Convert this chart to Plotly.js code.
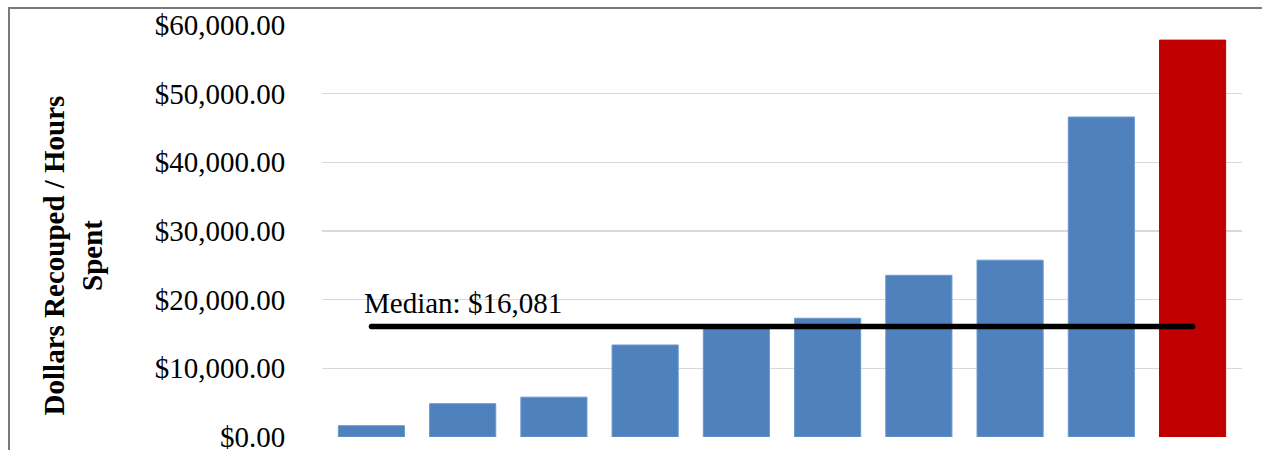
<!DOCTYPE html>
<html>
<head>
<meta charset="utf-8">
<script src="https://cdn.plot.ly/plotly-3.0.1.min.js"></script>
<style>
  html, body { margin: 0; padding: 0; background: #ffffff; overflow: hidden; }
  #frame { position: absolute; left: 8px; top: 7px; width: 1400px; height: 600px;
           border-left: 2px solid #7a7a7a; border-top: 2px solid #7a7a7a; box-sizing: border-box; }
  #chart { position: absolute; left: 0; top: 0; width: 1262px; height: 450px; }
</style>
</head>
<body>
<div id="frame"></div>
<div id="chart"></div>
<script>
// Data
const categories = ["Case 1", "Case 2", "Case 3", "Case 4", "Case 5",
                    "Case 6", "Case 7", "Case 8", "Case 9", "Case 10"];
const values = [1650, 4850, 5800, 13400, 16081, 17300, 23550, 25750, 46600, 57800];
const barColors = ["#4f81bd", "#4f81bd", "#4f81bd", "#4f81bd", "#4f81bd",
                   "#4f81bd", "#4f81bd", "#4f81bd", "#4f81bd", "#c00000"];
const medianValue = 16081;
const medianLabel = "Median: $16,081";
const yTickVals = [0, 10000, 20000, 30000, 40000, 50000, 60000];
const yTickText = ["$0.00", "$10,000.00", "$20,000.00", "$30,000.00", "$40,000.00", "$50,000.00", "$60,000.00"];
const yTitle = "<b>Dollars Recouped / Hours<br>Spent</b>";

const serif = "Liberation Serif, Times New Roman, serif";

const bars = {
  type: "bar",
  x: categories,
  y: values,
  marker: {
    color: barColors,
    line: { color: barColors.map(c => c === "#c00000" ? "#c00000" : "#6d98cf"), width: 1 }
  },
  hoverinfo: "y",
  showlegend: false
};

const medianLine = {
  type: "scatter",
  mode: "lines+markers",
  x: [categories[0], categories[categories.length - 1]],
  y: [medianValue, medianValue],
  line: { color: "#000000", width: 5.5 },
  marker: { color: "#000000", size: 5.5 },
  hoverinfo: "y",
  showlegend: false
};

const layout = {
  width: 1262,
  height: 450,
  margin: { l: 322, r: 20, t: 25, b: 13, pad: 0 },
  paper_bgcolor: "rgba(0,0,0,0)",
  plot_bgcolor: "rgba(0,0,0,0)",
  bargap: 0.275,
  font: { family: serif, color: "#000000" },
  xaxis: {
    type: "category",
    showticklabels: false,
    showgrid: false,
    zeroline: false,
    showline: false,
    ticks: "",
    fixedrange: true
  },
  yaxis: {
    range: [0, 60000],
    tickvals: yTickVals,
    ticktext: yTickText,
    tickfont: { family: serif, size: 29, color: "#000000" },
    ticks: "outside",
    ticklen: 30,
    tickcolor: "rgba(0,0,0,0)",
    ticklabeloverflow: "allow",
    showgrid: true,
    gridcolor: "#d9d9d9",
    gridwidth: 1.3,
    zeroline: false,
    showline: false,
    fixedrange: true
  },
  annotations: [{
    x: categories[0],
    y: medianValue,
    xref: "x",
    yref: "y",
    text: medianLabel,
    showarrow: false,
    xanchor: "left",
    yanchor: "bottom",
    xshift: -9,
    yshift: 6,
    font: { family: serif, size: 29, color: "#000000" }
  }, {
    xref: "paper",
    yref: "paper",
    x: -0.271,
    y: 0.44,
    xanchor: "center",
    yanchor: "middle",
    textangle: -90,
    text: yTitle,
    showarrow: false,
    font: { family: serif, size: 29, color: "#000000" }
  }]
};

Plotly.newPlot("chart", [bars, medianLine], layout, { displayModeBar: false, staticPlot: true });
</script>
</body>
</html>
